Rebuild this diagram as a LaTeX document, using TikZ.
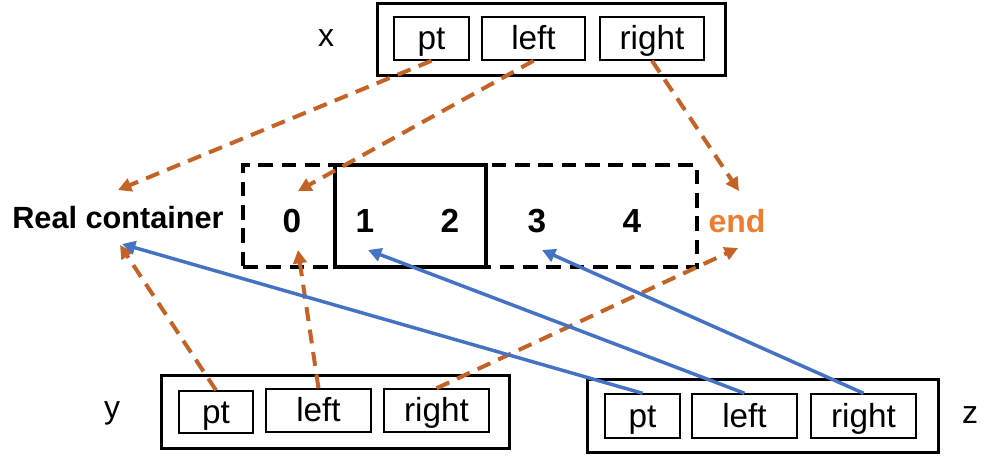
\documentclass[tikz,border=0pt]{standalone}
\usepackage{fontspec}
\setmainfont{Liberation Sans}
\usetikzlibrary{arrows.meta}
\definecolor{arrorange}{RGB}{197,98,38}
\definecolor{endorange}{RGB}{237,125,49}
\definecolor{arrblue}{RGB}{68,114,196}
\begin{document}
\begin{tikzpicture}[x=0.75pt,y=-0.75pt,
  outerbox/.style={draw=black,line width=2.25pt,rectangle,inner sep=0pt,minimum height=54pt},
  fieldbox/.style={draw=black,line width=1.1pt,rectangle,inner sep=0pt,minimum height=32.25pt,font=\fontsize{25}{29}\selectfont,text height=21pt,text depth=4pt},
  lbl/.style={inner sep=0pt,font=\fontsize{24}{28}\selectfont},
  num/.style={inner sep=0pt,font=\fontsize{25}{29}\selectfont\bfseries},
  orangearrow/.style={draw=arrorange,line width=3pt,dash pattern=on 10.5pt off 6.5pt,-{Triangle[length=10pt,width=10pt]}},
  bluearrow/.style={draw=arrblue,line width=2.6pt,-{Triangle[length=10pt,width=10pt]}}
]
\useasboundingbox (0,0) rectangle (986,462);
% x
\node[outerbox,minimum width=261pt] (xo) at (551,39) {};
\node[fieldbox,minimum width=56.25pt] (xpt) at (431.5,38.5) {pt};
\node[fieldbox,minimum width=77.25pt] (xleft) at (533.5,38.5) {left};
\node[fieldbox,minimum width=78pt] (xright) at (652,38.5) {right};
\node[lbl] (xl) at (326,38) {x};
% y
\node[outerbox,minimum width=261pt,minimum height=54.75pt] (yo) at (335,411.5) {};
\node[fieldbox,minimum width=55.5pt,minimum height=31.5pt] (ypt) at (216,412) {pt};
\node[fieldbox,minimum width=78.75pt] (yleft) at (318.5,410.5) {left};
\node[fieldbox,minimum width=78.75pt] (yright) at (436.5,410.5) {right};
\node[lbl] (yl) at (112,413) {y};
% z
\node[outerbox,minimum width=263.25pt,minimum height=54.75pt] (zo) at (762.5,415.5) {};
\node[fieldbox,minimum width=56.25pt,minimum height=33pt] (zpt) at (642.5,416) {pt};
\node[fieldbox,minimum width=78.75pt,minimum height=33pt] (zleft) at (744.5,416) {left};
\node[fieldbox,minimum width=78.75pt,minimum height=33pt] (zright) at (863.5,416) {right};
\node[lbl] (zl) at (970,415) {z};
% container
\node[draw=black,line width=3pt,dash pattern=on 11pt off 6.5pt,rectangle,minimum width=340.5pt,minimum height=76.5pt,inner sep=0pt] (dash) at (470,216) {};
\node[draw=black,line width=3pt,rectangle,minimum width=113.25pt,minimum height=76.5pt,inner sep=0pt] (solid) at (410.5,216) {};
\node[num] (n0) at (292,221) {0};
\node[num] (n1) at (365,221) {1};
\node[num] (n2) at (450,221) {2};
\node[num] (n3) at (537,221) {3};
\node[num] (n4) at (632,221) {4};
\node[num,text=endorange,font=\fontsize{24}{28}\selectfont\bfseries] (end) at (737,221) {end};
\node[num,font=\fontsize{23}{27}\selectfont\bfseries] (rc) at (118,218) {Real container};
% arrow tips
\coordinate (t1) at (118,190);
\coordinate (t2) at (298,191);
\coordinate (t3) at (739,191);
\coordinate (t4) at (120,245);
\coordinate (t5) at (298,250);
\coordinate (t6) at (738,248);
\coordinate (t7) at (122,244);
\coordinate (t8) at (368,250);
\coordinate (t9) at (542,250);
% arrows
\draw[orangearrow] (xpt.south) -- (t1);
\draw[orangearrow] (xleft.south) -- (t2);
\draw[orangearrow] (xright.south) -- (t3);
\draw[orangearrow] (ypt.north) -- (t4);
\draw[orangearrow] (yleft.north) -- (t5);
\draw[orangearrow] (yright.north) -- (t6);
\draw[bluearrow] (zpt.north) -- (t7);
\draw[bluearrow] (zleft.north) -- (t8);
\draw[bluearrow] (zright.north) -- (t9);
\end{tikzpicture}
\end{document}
